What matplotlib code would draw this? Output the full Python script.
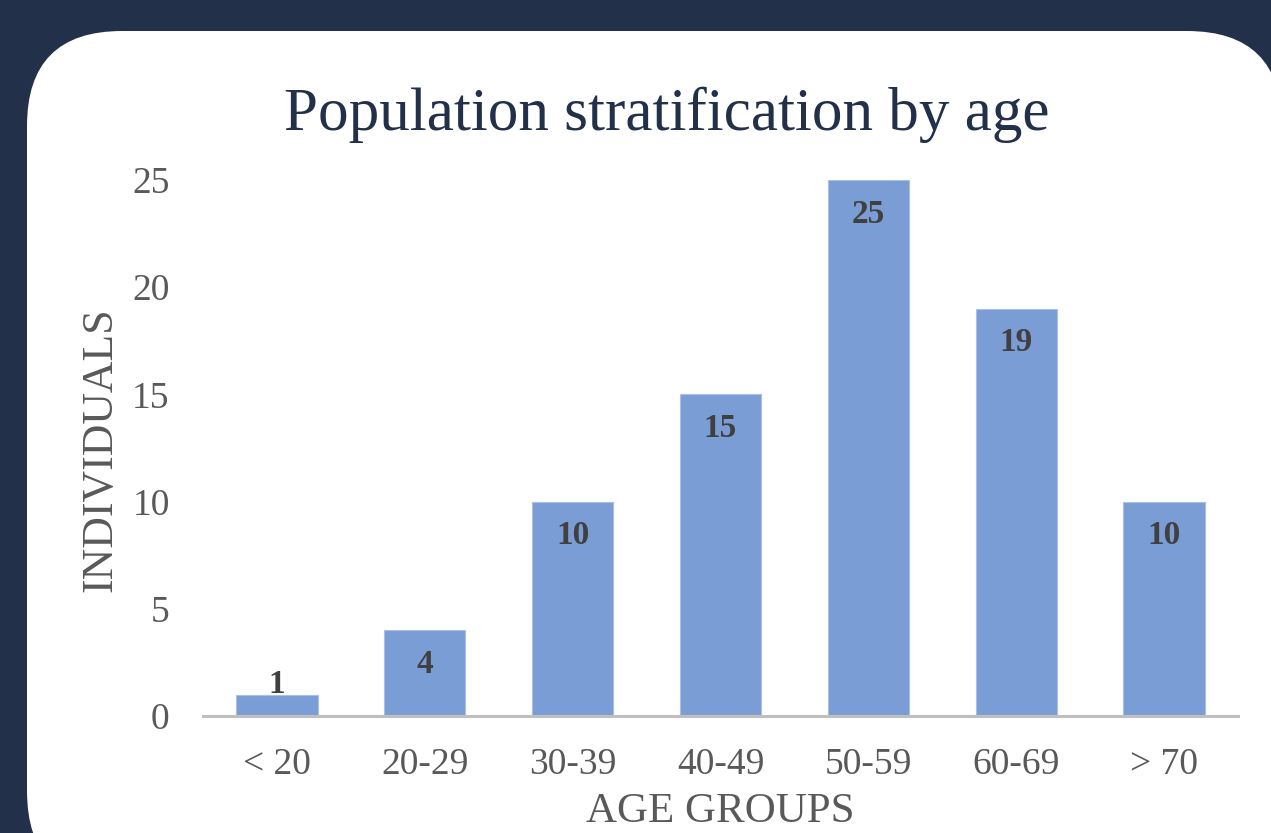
import matplotlib
matplotlib.use("Agg")
import matplotlib.pyplot as plt
from matplotlib.patches import FancyBboxPatch

# data
groups = ["< 20", "20-29", "30-39", "40-49", "50-59", "60-69", "> 70"]
counts = [1, 4, 10, 15, 25, 19, 10]
yticks = [0, 5, 10, 15, 20, 25]

navy = "#223049"
bar_col = "#7b9dd6"
grey_txt = "#595959"

plt.rcParams["font.family"] = ["Liberation Serif", "DejaVu Serif"]

W, H = 1271, 833
fig = plt.figure(figsize=(W / 100, H / 100), dpi=100)
fig.patch.set_facecolor(navy)

# background card with rounded corners (pixel coordinates)
bg = fig.add_axes([0, 0, 1, 1])
bg.set_xlim(0, W)
bg.set_ylim(H, 0)
bg.axis("off")
card = FancyBboxPatch((27, 31), 1282 - 27, 886 - 31,
                      boxstyle="round,pad=0,rounding_size=95",
                      facecolor="white", edgecolor="none")
bg.add_patch(card)

ax = fig.add_axes([203 / W, 1 - 716 / H, (1238 - 203) / W, (716 - 180) / H])
ax.patch.set_alpha(0)
x = range(len(groups))
ax.bar(x, counts, width=0.55, color=bar_col, edgecolor="#a8bfe8", linewidth=0.8)

ax.set_xlim(-0.5, len(groups) - 0.5)
ax.set_ylim(0, 25)
ax.set_xticks(list(x))
ax.set_xticklabels(groups)
ax.set_yticks(yticks)
ax.tick_params(length=0, labelsize=27, colors=grey_txt)
ax.tick_params(axis="y", pad=24)
ax.tick_params(axis="x", pad=23)
for s in ["top", "right", "left"]:
    ax.spines[s].set_visible(False)
ax.spines["bottom"].set_color("#bfbfbf")
ax.spines["bottom"].set_linewidth(2.2)

# value labels inside bar tops (pushed up when the bar is too short)
for xi, v in zip(x, counts):
    ax.text(xi, max(v - 1.6, 1.45), str(v), ha="center", va="center",
            fontsize=24, fontweight="bold", color="#404040")

fig.text(667 / W, 1 - 130 / H, "Population stratification by age",
         ha="center", va="baseline", fontsize=44, color=navy)
fig.text(100 / W, 1 - 450 / H, "INDIVIDUALS", rotation=90,
         ha="center", va="center", fontsize=31.5, color=grey_txt)
fig.text(720 / W, 1 - 812 / H, "AGE GROUPS",
         ha="center", va="center", fontsize=31, color=grey_txt)

fig.savefig("out.png", dpi=100, facecolor=navy)
